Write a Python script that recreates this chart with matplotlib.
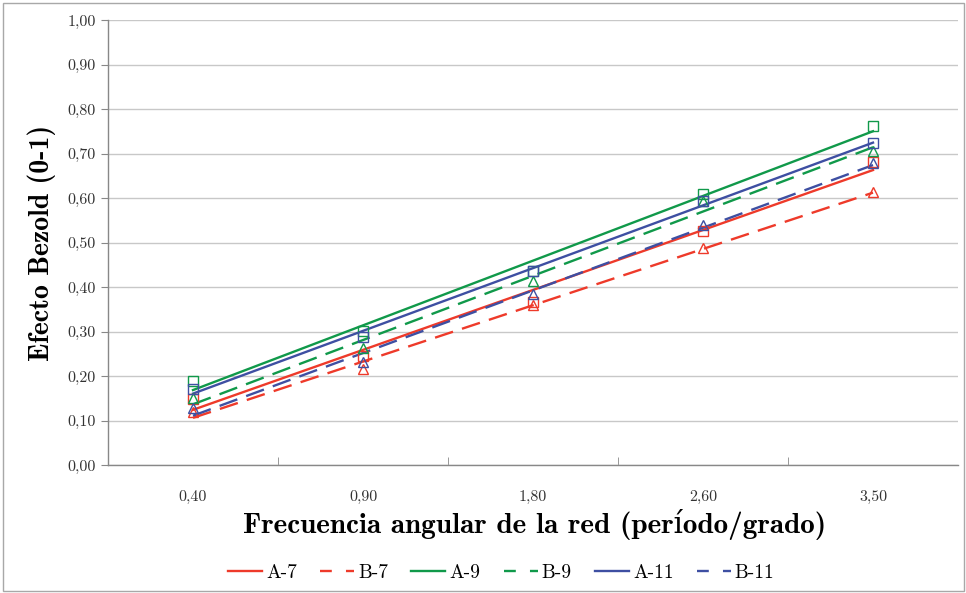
import numpy as np
import matplotlib
matplotlib.use("Agg")
import matplotlib.pyplot as plt
from matplotlib.lines import Line2D
from matplotlib.patches import Rectangle

# ---- data ----
x_labels = ['0,40', '0,90', '1,80', '2,60', '3,50']
y_ticks = [0.0, 0.1, 0.2, 0.3, 0.4, 0.5, 0.6, 0.7, 0.8, 0.9, 1.0]
series_names = ['A-7', 'B-7', 'A-9', 'B-9', 'A-11', 'B-11']
A7 = [0.148, 0.245, 0.367, 0.526, 0.681]
B7 = [0.118, 0.215, 0.360, 0.488, 0.614]
A9 = [0.189, 0.301, 0.435, 0.609, 0.762]
B9 = [0.150, 0.262, 0.414, 0.594, 0.706]
A11 = [0.171, 0.288, 0.436, 0.594, 0.723]
B11 = [0.128, 0.232, 0.384, 0.540, 0.678]

RED = '#EE3A2A'
GREEN = '#10994A'
BLUE = '#3E4FA2'

styles = {
    'A-7': (A7, RED, '-', 's'),
    'B-7': (B7, RED, '--', '^'),
    'A-9': (A9, GREEN, '-', 's'),
    'B-9': (B9, GREEN, '--', '^'),
    'A-11': (A11, BLUE, '-', 's'),
    'B-11': (B11, BLUE, '--', '^'),
}

SERIF = ['cmr10', 'DejaVu Serif']
BOLD = ['cmb10', 'DejaVu Serif']

fig = plt.figure(figsize=(9.66, 5.93), dpi=100)
ax = fig.add_axes([108/966, 1-465/593, (958-108)/966, (465-20)/593])

pos = np.arange(len(x_labels))
handles = []
for name in series_names:
    vals, col, ls, mk = styles[name]
    vals = np.array(vals)
    ax.plot(pos, vals, linestyle='none', marker=mk, markersize=7,
            markerfacecolor='none', markeredgecolor=col, markeredgewidth=1.0, zorder=3)
    k, b = np.polyfit(pos, vals, 1)
    xs = np.array([pos[0], pos[-1]])
    if ls == '--':
        ax.plot(xs, k*xs + b, color=col, lw=1.7, dashes=(8, 4), zorder=2)
        handles.append(Line2D([], [], color=col, lw=1.7, dashes=(5, 6)))
    else:
        ax.plot(xs, k*xs + b, color=col, lw=1.7, zorder=2)
        handles.append(Line2D([], [], color=col, lw=1.7))

ax.set_xlim(-0.5, len(x_labels) - 0.5)
ax.set_ylim(0, 1)
ax.set_yticks(y_ticks)
ax.set_yticklabels([('%.2f' % v).replace('.', ',') for v in y_ticks],
                   fontfamily=SERIF, fontsize=11.5, color='#333333')
ax.set_xticks(pos)
ax.set_xticklabels(x_labels, fontfamily=SERIF, fontsize=11.5, color='#333333')
ax.set_xticks(np.arange(0.5, len(x_labels) - 0.5, 1), minor=True)
ax.tick_params(axis='x', which='major', length=0, pad=18)
ax.tick_params(axis='x', which='minor', direction='in', length=6, color='#888888')
ax.tick_params(axis='y', which='major', direction='out', length=5, color='#888888', pad=4)

ax.grid(axis='y', color='#C8C8C8', lw=1.0, zorder=0)
ax.set_axisbelow(True)
for s in ['top', 'right']:
    ax.spines[s].set_visible(False)
for s in ['left', 'bottom']:
    ax.spines[s].set_color('#888888')
    ax.spines[s].set_linewidth(1.0)

ax.set_ylabel('Efecto Bezold (0-1)', fontfamily=BOLD, fontsize=20, labelpad=8)
fig.text(535/966, 1-525/593, 'Frecuencia angular de la red (período/grado)',
         fontfamily=BOLD, fontsize=21, ha='center', va='center')

fig.legend(handles, series_names, loc='center', bbox_to_anchor=(0.519, 1-573/593),
           ncol=6, frameon=False, prop={'family': SERIF, 'size': 14},
           handlelength=1.75, handletextpad=0.2, columnspacing=1.2)

fig.patches.append(Rectangle((2.5/966, 2.5/593), 1-5/966, 1-5/593, transform=fig.transFigure,
                             fill=False, edgecolor='#A8A8A8', lw=1.0))

fig.savefig('out.png', dpi=100)
